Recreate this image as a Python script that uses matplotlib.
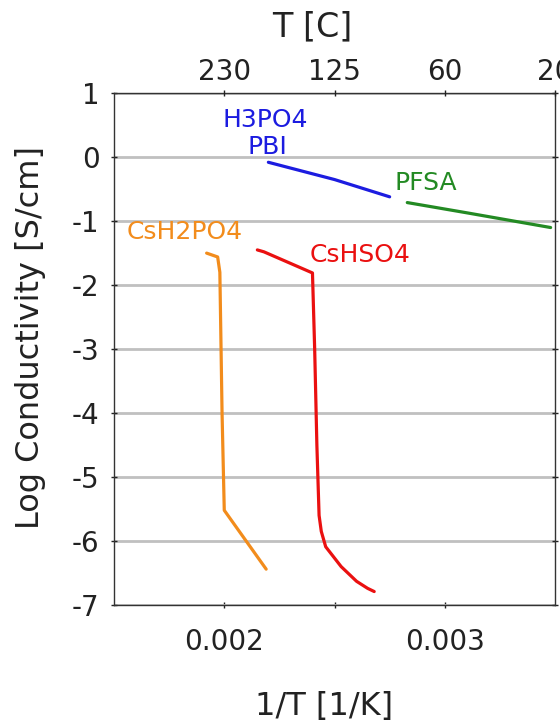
import matplotlib
matplotlib.use("Agg")
import matplotlib.pyplot as plt

# ---- data ----
pbi_x = [0.00220, 0.00250, 0.00275]
pbi_y = [-0.08, -0.35, -0.62]

pfsa_x = [0.00283, 0.00310, 0.00348]
pfsa_y = [-0.71, -0.87, -1.10]

csh2po4_x = [0.00192, 0.00197, 0.00198, 0.00199, 0.00200, 0.00219]
csh2po4_y = [-1.50, -1.56, -1.80, -4.00, -5.52, -6.44]

cshso4_x = [0.00215, 0.00218, 0.00240, 0.00241, 0.00242, 0.00243, 0.00244,
            0.00246, 0.00253, 0.00260, 0.00265, 0.00268]
cshso4_y = [-1.45, -1.48, -1.81, -3.00, -4.50, -5.60, -5.85,
            -6.09, -6.40, -6.63, -6.74, -6.79]

bottom_ticks = [0.002, 0.0025, 0.003]
bottom_labels = ["0.002", "", "0.003"]
top_ticks = [0.002, 0.0025, 0.003, 0.0035]
top_labels = ["230", "125", "60", "20"]
y_ticks = [1, 0, -1, -2, -3, -4, -5, -6, -7]

c_blue = "#1c1ce0"
c_green = "#238a23"
c_orange = "#f28c1c"
c_red = "#ea1010"

plt.rcParams['font.family'] = ['DejaVu Sans']

fig = plt.figure(figsize=(5.6, 7.28), dpi=100)
ax = fig.add_axes([0.2036, 0.169, 0.7875, 0.703])

ax.set_xlim(0.0015, 0.0035)
ax.set_ylim(-7, 1)

ax.set_yticks(y_ticks)
ax.set_yticklabels([str(v) for v in y_ticks])
ax.yaxis.grid(True, color="#c0c0c0", linewidth=2)
ax.set_axisbelow(True)
ax.set_xticks(bottom_ticks)
ax.set_xticklabels(bottom_labels)
ax.tick_params(axis='both', labelsize=20, length=5, width=1, colors='#222222',
               direction='inout')
ax.tick_params(axis='y', right=True, pad=8)
ax.tick_params(axis='x', pad=14)
for s in ax.spines.values():
    s.set_color('#333333')
    s.set_linewidth(1)

lw = 2.3
ax.plot(pbi_x, pbi_y, color=c_blue, lw=lw, solid_capstyle='round')
ax.plot(pfsa_x, pfsa_y, color=c_green, lw=lw, solid_capstyle='round')
ax.plot(csh2po4_x, csh2po4_y, color=c_orange, lw=lw, solid_capstyle='round')
ax.plot(cshso4_x, cshso4_y, color=c_red, lw=lw, solid_capstyle='round')

fs = 18
ax.text(0.002185, 0.58, "H3PO4", color=c_blue, fontsize=fs, ha='center', va='center')
ax.text(0.002194, 0.16, "PBI", color=c_blue, fontsize=fs, ha='center', va='center')
ax.text(0.002774, -0.41, "PFSA", color=c_green, fontsize=fs, ha='left', va='center')
ax.text(0.001559, -1.17, "CsH2PO4", color=c_orange, fontsize=fs, ha='left', va='center')
ax.text(0.002389, -1.53, "CsHSO4", color=c_red, fontsize=fs, ha='left', va='center')

ax.set_ylabel("Log Conductivity [S/cm]", fontsize=23, color='#222222', va='center')
ax.yaxis.set_label_coords(-0.19, 0.523)
ax.set_xlabel("1/T [1/K]", fontsize=23, color='#222222', va='center')
ax.xaxis.set_label_coords(0.476, -0.199)

ax2 = ax.twiny()
ax2.set_xlim(ax.get_xlim())
ax2.set_xticks(top_ticks)
ax2.set_xticklabels(top_labels)
ax2.tick_params(axis='x', labelsize=20, length=5, width=1, colors='#222222',
                direction='inout', pad=3)
for s in ax2.spines.values():
    s.set_visible(False)
ax2.set_xlabel("T [C]", fontsize=24, color='#222222', va='center')
ax2.xaxis.set_label_coords(0.449, 1.129)

fig.savefig("out.png", dpi=100)
